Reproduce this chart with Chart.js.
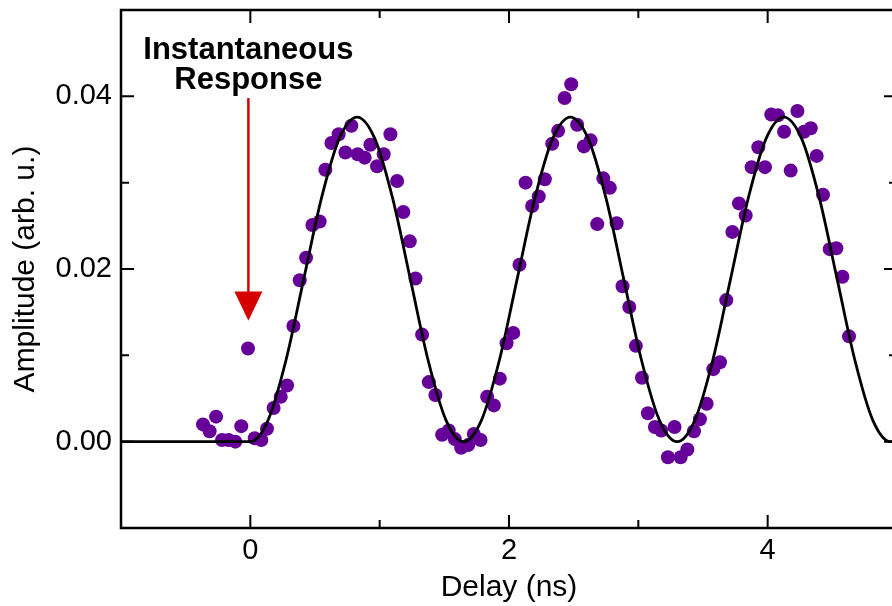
<!DOCTYPE html>
<html lang="en">
<head>
    <meta charset="UTF-8">
    <title>Delay scan</title>
    <script src="https://cdn.jsdelivr.net/npm/chart.js"></script>
    <style>
        * { box-sizing: border-box; }
        body {
            margin: 0;
            background: #fff;
            overflow: hidden;
            width: 892px;
            height: 606px;
        }
        canvas { display: block; }
    </style>
</head>
<body>
    <canvas id="delayChart" width="904" height="606"></canvas>

    <script>
        // measured points (delay in ns, amplitude in arb. u.)
        const measDelay = [
            -0.366, -0.315, -0.265, -0.219, -0.168, -0.116, -0.070, -0.018, 0.034, 0.085,
            0.129, 0.180, 0.235, 0.284, 0.333, 0.382, 0.431, 0.480, 0.536, 0.580,
            0.627, 0.683, 0.735, 0.781, 0.830, 0.884, 0.928, 0.980, 1.031, 1.083,
            1.135, 1.183, 1.233, 1.277, 1.328, 1.380, 1.431, 1.483, 1.534, 1.581,
            1.630, 1.684, 1.728, 1.780, 1.831, 1.883, 1.929, 1.981, 2.033, 2.081,
            2.128, 2.179, 2.230, 2.277, 2.334, 2.380, 2.430, 2.481, 2.527, 2.579,
            2.631, 2.682, 2.729, 2.780, 2.832, 2.878, 2.930, 2.981, 3.028, 3.074,
            3.128, 3.177, 3.229, 3.280, 3.327, 3.379, 3.430, 3.476, 3.528, 3.580,
            3.631, 3.680, 3.727, 3.778, 3.830, 3.876, 3.928, 3.979, 4.028, 4.080,
            4.127, 4.178, 4.230, 4.281, 4.333, 4.379, 4.428, 4.480, 4.531, 4.578,
            4.629
        ];
        const measAmp = [
            0.0020, 0.0012, 0.0029, 0.0002, 0.0002, 0.0000, 0.0018, 0.0108, 0.0004, 0.0002,
            0.0015, 0.0039, 0.0052, 0.0065, 0.0134, 0.0187, 0.0213, 0.0251, 0.0255, 0.0315,
            0.0346, 0.0356, 0.0335, 0.0366, 0.0333, 0.0329, 0.0344, 0.0319, 0.0333, 0.0356,
            0.0302, 0.0266, 0.0232, 0.0189, 0.0124, 0.0069, 0.0054, 0.0008, 0.0013, 0.0003,
            -0.0007, -0.0004, 0.0009, 0.0002, 0.0052, 0.0042, 0.0073, 0.0114, 0.0126, 0.0205,
            0.0300, 0.0273, 0.0284, 0.0304, 0.0345, 0.0360, 0.0398, 0.0414, 0.0367, 0.0342,
            0.0349, 0.0252, 0.0305, 0.0294, 0.0253, 0.0180, 0.0156, 0.0111, 0.0074, 0.0033,
            0.0017, 0.0013, -0.0018, 0.0017, -0.0018, -0.0009, 0.0012, 0.0026, 0.0044, 0.0084,
            0.0092, 0.0164, 0.0243, 0.0276, 0.0262, 0.0318, 0.0341, 0.0318, 0.0379, 0.0378,
            0.0359, 0.0314, 0.0383, 0.0359, 0.0363, 0.0331, 0.0286, 0.0223, 0.0224, 0.0191,
            0.0122
        ];

        // fit curve
        const fitDelay = [
            -1, 0, 0.1375, 0.275, 0.4125, 0.55, 0.6875, 0.825, 0.9625, 1.1, 1.2375, 1.375, 1.5125,
            1.65, 1.7875, 1.925, 2.0625, 2.2, 2.3375, 2.475, 2.6125, 2.75, 2.8875, 3.025, 3.1625,
            3.3, 3.4375, 3.575, 3.7125, 3.85, 3.9875, 4.125, 4.2625, 4.4, 4.5375, 4.675, 4.8125,
            4.95, 5.0875
        ];
        const fitAmp = [
            0, 0, 0.0025, 0.0094, 0.0188, 0.0282, 0.0351, 0.0376, 0.0351, 0.0282, 0.0188, 0.0094, 0.0025,
            0, 0.0025, 0.0094, 0.0188, 0.0282, 0.0351, 0.0376, 0.0351, 0.0282, 0.0188, 0.0094, 0.0025,
            0, 0.0025, 0.0094, 0.0188, 0.0282, 0.0351, 0.0376, 0.0351, 0.0282, 0.0188, 0.0094, 0.0025,
            0, 0.0025
        ];

        const xTickLabels = ['0', '2', '4'];
        const yTickLabels = ['0.00', '0.02', '0.04'];

        const annotationLines = ['Instantaneous', 'Response'];

        const FONT = "'Liberation Sans', Arial, Helvetica, sans-serif";

        // box frame + inward ticks on all four sides, plus the red arrow note
        const framePlugin = {
            id: 'frame',
            afterDraw(chart) {
                const ctx = chart.ctx;
                const a = chart.chartArea;
                const xs = chart.scales.x;
                const ys = chart.scales.y;
                ctx.save();
                ctx.strokeStyle = '#000';
                ctx.lineWidth = 2.5;
                ctx.strokeRect(a.left, a.top, a.right - a.left, a.bottom - a.top);

                ctx.lineWidth = 2;
                for (let v = -1; v <= 5; v++) {
                    const px = xs.getPixelForValue(v);
                    const len = v % 2 === 0 ? 13 : 8;
                    ctx.beginPath();
                    ctx.moveTo(px, a.bottom); ctx.lineTo(px, a.bottom - len);
                    ctx.moveTo(px, a.top); ctx.lineTo(px, a.top + len);
                    ctx.stroke();
                }
                for (let k = -1; k <= 5; k++) {
                    const py = ys.getPixelForValue(k / 100);
                    const len = k % 2 === 0 ? 13 : 8;
                    ctx.beginPath();
                    ctx.moveTo(a.left, py); ctx.lineTo(a.left + len, py);
                    ctx.moveTo(a.right, py); ctx.lineTo(a.right - len, py);
                    ctx.stroke();
                }

                // annotation
                const ax = xs.getPixelForValue(-0.015);
                ctx.fillStyle = '#000';
                ctx.font = 'bold 31px ' + FONT;
                ctx.textAlign = 'center';
                ctx.textBaseline = 'alphabetic';
                ctx.fillText(annotationLines[0], ax, ys.getPixelForValue(0.0443));
                ctx.fillText(annotationLines[1], ax, ys.getPixelForValue(0.0408));

                const arrowTop = ys.getPixelForValue(0.0398);
                const headBase = ys.getPixelForValue(0.0174);
                const tip = ys.getPixelForValue(0.0140);
                ctx.strokeStyle = '#d40000';
                ctx.fillStyle = '#d40000';
                ctx.lineWidth = 2.5;
                ctx.beginPath();
                ctx.moveTo(ax, arrowTop); ctx.lineTo(ax, headBase + 2);
                ctx.stroke();
                ctx.beginPath();
                ctx.moveTo(ax - 14, headBase);
                ctx.lineTo(ax + 14, headBase);
                ctx.lineTo(ax, tip);
                ctx.closePath();
                ctx.fill();
                ctx.restore();
            }
        };

        const ctx = document.getElementById('delayChart').getContext('2d');
        const chart = new Chart(ctx, {
            type: 'scatter',
            data: {
                datasets: [
                    {
                        type: 'line',
                        label: 'Fit',
                        data: fitDelay.map((x, i) => ({ x: x, y: fitAmp[i] })),
                        borderColor: '#000',
                        borderWidth: 2.8,
                        pointRadius: 0,
                        fill: false,
                        cubicInterpolationMode: 'monotone',
                        order: 0
                    },
                    {
                        label: 'Data',
                        data: measDelay.map((x, i) => ({ x: x, y: measAmp[i] })),
                        backgroundColor: '#660099',
                        borderWidth: 0,
                        pointRadius: 7,
                        order: 1
                    }
                ]
            },
            options: {
                responsive: false,
                animation: false,
                events: [],
                layout: { padding: { top: 10, right: 0, left: 0, bottom: 0 } },
                plugins: { legend: { display: false }, tooltip: { enabled: false } },
                scales: {
                    x: {
                        type: 'linear',
                        position: 'bottom',
                        min: -1,
                        max: 5,
                        grid: { display: false, drawTicks: false },
                        border: { display: false },
                        afterFit: s => {
                            s.height = 78;
                            s.paddingLeft = 0;
                            s.paddingRight = 0;
                        },
                        afterBuildTicks: s => {
                            s.ticks = [-1, 0, 1, 2, 3, 4, 5].map(v => ({ value: v }));
                        },
                        ticks: {
                            autoSkip: false,
                            maxRotation: 0,
                            padding: 6,
                            color: '#000',
                            font: { family: FONT, size: 29 },
                            callback: v => {
                                const i = [0, 2, 4].indexOf(v);
                                return i >= 0 ? xTickLabels[i] : '';
                            }
                        },
                        title: {
                            display: true,
                            text: 'Delay (ns)',
                            color: '#000',
                            font: { family: FONT, size: 30 },
                            padding: { top: 0, bottom: 0 }
                        }
                    },
                    y: {
                        min: -0.01,
                        max: 0.05,
                        grid: { display: false, drawTicks: false },
                        border: { display: false },
                        afterFit: s => {
                            s.width = 121;
                            s.paddingTop = 0;
                            s.paddingBottom = 0;
                        },
                        afterBuildTicks: s => {
                            s.ticks = [-1, 0, 1, 2, 3, 4, 5].map(k => ({ value: k / 100 }));
                        },
                        ticks: {
                            autoSkip: false,
                            padding: 9,
                            color: '#000',
                            font: { family: FONT, size: 29 },
                            callback: v => {
                                const i = [0, 0.02, 0.04].findIndex(t => Math.abs(t - v) < 1e-6);
                                return i >= 0 ? yTickLabels[i] : '';
                            }
                        },
                        title: {
                            display: true,
                            text: 'Amplitude (arb. u.)',
                            color: '#000',
                            font: { family: FONT, size: 30 },
                            padding: { top: 8, bottom: 0 }
                        }
                    }
                }
            },
            plugins: [framePlugin]
        });
    </script>
</body>
</html>
